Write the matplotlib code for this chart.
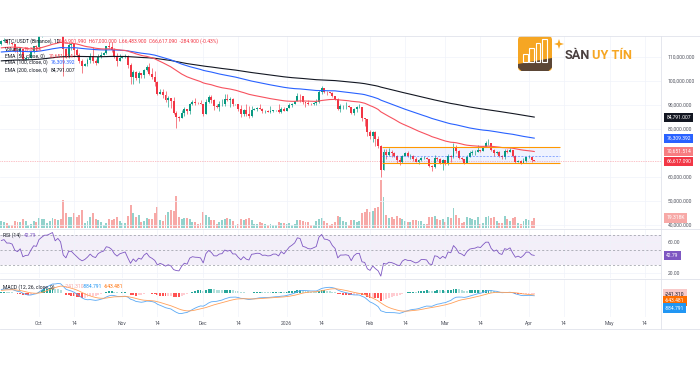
import numpy as np
import pandas as pd
import matplotlib
matplotlib.use('Agg')
import matplotlib.pyplot as plt
import matplotlib.dates as mdates
from matplotlib.patches import FancyBboxPatch, Rectangle, Polygon
from matplotlib.lines import Line2D

plt.rcParams['font.family'] = ['Roboto', 'DejaVu Sans']

# ─────────────────────────────────────────────
# DATA  (BTC/USDT daily, prices in thousands of USDT, volume in K)
# ─────────────────────────────────────────────
dates = pd.date_range('2025-09-17', '2026-04-03', freq='D')
first_open_k = 115.3

close_k = [
    116.5, 117.1, 115.7, 115.7, 115.3, 112.7, 112.0, 113.3, 109.0, 109.6, 109.7, 112.1, 114.4, 114.1,
    118.6, 120.5, 122.3, 122.4, 123.5, 124.8, 121.4, 123.3, 121.7, 113.2, 110.6, 115.2, 115.3, 113.0, 110.7, 108.2,
    106.4, 107.2, 108.6, 110.5, 108.4, 107.6, 110.0, 111.0, 111.6, 114.5, 114.1, 112.9, 110.0, 108.3, 109.6,
    110.1, 110.6, 106.5, 101.5, 103.9, 101.3, 103.3, 102.3, 104.7, 106.0, 103.0, 101.6, 99.7, 94.6, 95.5,
    94.2, 92.2, 92.9, 91.5, 86.6, 85.1, 84.6, 86.8, 88.3, 87.3, 90.5, 91.3, 90.9, 90.8, 90.4,
    86.3, 91.3, 93.5, 92.1, 89.4, 89.3, 90.4, 90.6, 92.7, 92.0, 92.5, 90.3, 90.3, 88.2, 86.4, 87.8,
    86.1, 85.5, 88.1, 88.3, 88.6, 88.5, 87.5, 87.6, 87.2, 87.3, 87.8, 87.8, 87.1, 88.4, 87.6,
    88.7, 89.9, 90.6, 91.5, 93.9, 93.7, 91.3, 91.0, 90.5, 90.4, 90.8, 91.2, 95.3, 97.0, 95.6, 95.5,
    95.1, 93.6, 92.6, 88.3, 89.4, 89.4, 89.5, 89.2, 86.6, 88.3, 89.1, 89.2, 84.6, 84.2, 78.7,
    76.9, 78.6, 75.7, 73.0, 62.9, 70.5, 69.3, 70.6, 70.1, 68.8, 67.0, 66.2, 68.8, 69.8,
    68.8, 68.8, 67.5, 66.4, 66.9, 68.0, 68.0, 67.7, 64.6, 64.0, 67.9, 67.5, 65.9, 67.0,
    65.7, 68.8, 68.3, 72.6, 70.9, 68.0, 67.3, 66.0, 68.4, 69.9, 70.3, 70.5, 71.2, 70.9, 72.5, 74.0,
    74.0, 71.3, 69.9, 70.5, 68.7, 68.2, 70.9, 70.5, 71.3, 68.8, 66.3, 66.8, 65.9, 66.8, 68.2,
    68.2, 66.902, 66.617,
]
high_k = [
    117.0, 117.9, 117.5, 116.3, 115.8, 115.4, 113.3, 114.0, 113.5, 110.3, 110.0, 112.3, 114.5, 114.8,
    118.6, 121.0, 123.9, 122.9, 125.7, 126.2, 125.1, 124.2, 123.8, 122.6, 113.6, 115.8, 116.0, 115.5, 113.6, 111.8,
    109.2, 107.5, 109.4, 111.7, 114.0, 109.1, 111.3, 112.0, 111.9, 114.6, 116.4, 116.1, 113.6, 111.6, 111.2,
    110.6, 111.2, 110.8, 107.3, 104.5, 104.2, 104.0, 103.4, 105.0, 106.7, 107.5, 105.3, 104.1, 99.9, 96.8,
    96.6, 96.0, 93.8, 92.9, 93.2, 87.5, 85.6, 88.0, 89.2, 88.5, 90.7, 91.9, 93.1, 91.2, 92.0,
    90.4, 92.3, 94.1, 94.0, 92.7, 90.3, 91.7, 92.3, 94.6, 94.5, 93.5, 92.8, 90.6, 90.3, 90.1, 88.2,
    90.4, 89.5, 89.4, 88.6, 89.1, 90.6, 88.9, 87.9, 88.0, 89.5, 88.0, 88.0, 90.4, 89.3, 89.0,
    88.9, 90.9, 90.8, 91.8, 94.8, 94.4, 93.8, 91.4, 91.9, 90.8, 91.1, 92.4, 96.2, 97.9, 97.2, 95.9,
    95.6, 95.5, 93.6, 92.8, 90.3, 90.2, 91.1, 89.8, 89.3, 88.8, 89.4, 90.6, 89.3, 84.7, 84.3,
    79.4, 79.3, 79.0, 76.9, 73.3, 71.7, 71.8, 72.2, 71.4, 70.5, 69.3, 68.3, 69.3, 70.3,
    70.9, 69.6, 69.1, 68.4, 67.4, 68.2, 68.6, 68.2, 67.7, 64.9, 69.3, 68.5, 68.1, 67.5,
    67.2, 69.4, 69.0, 74.0, 73.2, 71.3, 68.5, 67.6, 69.2, 71.0, 71.1, 71.3, 73.5, 71.4, 72.9, 74.8,
    76.0, 74.3, 71.5, 71.0, 70.9, 69.0, 71.8, 71.5, 71.9, 71.4, 69.0, 67.1, 67.2, 67.8, 68.4,
    69.2, 68.4, 67.0,
]
low_k = [
    115.0, 116.2, 115.3, 115.4, 115.0, 112.0, 111.6, 111.1, 108.6, 108.6, 109.2, 109.4, 111.6, 112.7,
    113.9, 118.3, 119.3, 121.0, 122.1, 123.0, 120.6, 121.1, 119.7, 102.0, 109.6, 109.7, 113.0, 109.9, 110.2, 107.5,
    103.5, 106.4, 106.1, 107.5, 107.5, 106.7, 107.5, 109.7, 110.7, 111.3, 113.9, 112.2, 109.7, 106.3, 108.3,
    109.4, 109.5, 105.3, 98.9, 98.9, 100.3, 99.3, 101.4, 101.4, 104.3, 102.5, 100.8, 98.0, 94.0, 94.6,
    93.0, 91.2, 89.3, 88.6, 86.1, 80.6, 83.5, 84.7, 85.3, 86.1, 86.3, 90.1, 90.2, 90.3, 90.3,
    85.5, 86.2, 91.0, 91.0, 88.1, 88.9, 87.7, 89.6, 89.6, 91.6, 89.3, 89.5, 89.8, 87.6, 85.2, 85.3,
    85.3, 84.5, 85.1, 88.0, 87.6, 88.2, 86.6, 86.6, 86.9, 86.6, 87.2, 87.4, 86.7, 86.8, 87.3,
    87.5, 88.6, 89.3, 90.5, 91.5, 91.3, 90.6, 89.3, 89.8, 90.1, 90.2, 90.0, 91.0, 94.7, 94.9, 94.3,
    94.8, 93.4, 91.9, 87.8, 87.2, 88.4, 88.4, 89.0, 86.1, 86.0, 87.2, 88.8, 83.4, 81.1, 77.0,
    75.7, 74.6, 72.9, 72.1, 60.0, 62.9, 67.3, 68.9, 68.2, 68.3, 65.8, 65.1, 65.9, 68.6,
    68.3, 67.3, 66.6, 66.1, 65.6, 66.5, 67.6, 67.3, 64.3, 62.5, 63.8, 66.8, 65.4, 63.0,
    65.2, 65.1, 66.2, 67.9, 70.2, 67.7, 67.0, 65.6, 65.7, 68.3, 69.3, 69.2, 70.3, 70.5, 70.7, 72.4,
    73.5, 70.8, 68.8, 69.6, 68.5, 67.4, 67.7, 69.9, 70.3, 68.5, 65.7, 66.1, 65.4, 65.7, 66.3,
    67.8, 66.2, 66.484,
]
volume_k = [
    13, 12, 10, 6, 6, 14, 12, 11, 18, 14, 6, 7, 13, 12,
    19, 18, 17, 9, 14, 19, 17, 15, 18, 54, 29, 22, 21, 29, 22, 26, 35, 10, 13, 22, 29, 17, 15, 12, 6, 10, 17, 16, 18, 21, 14,
    9, 10, 24, 44, 29, 22, 26, 12, 14, 19, 18, 17, 28, 40, 16, 14, 26, 30, 35, 33, 62, 21, 17, 20, 19, 18, 11, 12, 7, 9,
    31, 25, 22, 15, 16, 8, 11, 15, 18, 19, 18, 13, 6, 8, 17, 16, 18, 20, 15, 7, 8, 12, 10, 7, 6, 7, 5, 5, 11, 10, 9,
    7, 9, 6, 8, 16, 15, 13, 12, 11, 5, 6, 13, 18, 19, 13, 9, 6, 7, 11, 24, 22, 13, 12, 6, 15, 16, 12, 14, 28, 30, 36,
    31, 33, 39, 40, 93, 60, 25, 20, 22, 17, 23, 20, 17, 13, 11, 12, 16, 15, 13, 14, 7, 8, 22, 21, 24, 17, 15, 18,
    12, 22, 20, 39, 25, 20, 10, 12, 21, 19, 17, 16, 22, 8, 10, 21, 24, 19, 22, 14, 10, 10, 23, 17, 14, 19, 22, 9, 8, 13, 17,
    16, 14, 19.318,
]
assert len(close_k) == len(high_k) == len(low_k) == len(volume_k) == len(dates)

ema_seed = {50: 113700, 100: 112000, 200: 108300}
macd_seed = {'fast': 114300, 'slow': 113500, 'signal': 600}
rsi_seed = {'gain': 900, 'loss': 600}

# range box drawn on the chart
box_start, box_end = '2026-02-05 14:00', '2026-04-12 12:00'
box_top, box_bottom, box_mid = 72500, 65700, 68900

price_ticks = [40000, 50000, 60000, 80000, 90000, 100000, 110000]
tick_dates = ['2025-10-01', '2025-10-14', '2025-11-01', '2025-11-14', '2025-12-01', '2025-12-14',
              '2026-01-01', '2026-01-14', '2026-02-01', '2026-02-14', '2026-03-01', '2026-03-14',
              '2026-04-01', '2026-04-14', '2026-05-01', '2026-05-14']
tick_labels = ['Oct', '14', 'Nov', '14', 'Dec', '14', '2026', '14', 'Feb', '14', 'Mar', '14',
               'Apr', '14', 'May', '14']

# ─────────────────────────────────────────────
# DERIVED SERIES
# ─────────────────────────────────────────────
closes = np.array(close_k) * 1000
highs = np.array(high_k) * 1000
lows = np.array(low_k) * 1000
opens = np.concatenate([[first_open_k * 1000], closes[:-1]])
opens[-1] = 66901.99
vols = np.array(volume_k, dtype=float)
x = mdates.date2num(dates)


def ema(values, span, seed):
    k = 2 / (span + 1)
    out, prev = [], seed
    for v in values:
        prev = prev + k * (v - prev)
        out.append(prev)
    return np.array(out)


ema50 = ema(closes, 50, ema_seed[50])
ema100 = ema(closes, 100, ema_seed[100])
ema200 = ema(closes, 200, ema_seed[200])

macd_line = ema(closes, 12, macd_seed['fast']) - ema(closes, 26, macd_seed['slow'])
signal_line = ema(macd_line, 9, macd_seed['signal'])
hist = macd_line - signal_line

delta = np.diff(np.concatenate([[first_open_k * 1000], closes]))
ag, al = rsi_seed['gain'], rsi_seed['loss']
rsi = []
for d in delta:
    ag = (ag * 13 + max(d, 0)) / 14
    al = (al * 13 + max(-d, 0)) / 14
    rsi.append(100 - 100 / (1 + ag / al))
rsi = np.array(rsi)

# ─────────────────────────────────────────────
# STYLE
# ─────────────────────────────────────────────
W, H = 700, 365
UP, DOWN = '#089981', '#f23645'
GRID = '#f0f3fa'
TXT = '#50535e'
FS = 3.65


def px_rect(x0, y0, x1, y1):
    return [x0 / W, 1 - y1 / H, (x1 - x0) / W, (y1 - y0) / H]


oct1 = mdates.date2num(pd.Timestamp('2025-10-01'))
xlim = (oct1 - 14.5, oct1 + 231.1)
tick_x = mdates.date2num(pd.to_datetime(tick_dates))

fig = plt.figure(figsize=(7, 3.65), dpi=100)
fig.patch.set_facecolor('white')


def style_pane(a):
    a.set_xlim(*xlim)
    a.set_xticks(tick_x)
    a.set_xticklabels([])
    a.yaxis.tick_right()
    a.tick_params(axis='both', length=0, labelsize=FS, labelcolor=TXT, pad=5)
    a.grid(True, color=GRID, lw=0.5)
    for s in a.spines.values():
        s.set_visible(False)


def tag(a, y, text, bg, fg='white', tr=None):
    a.text(1.008, y, text, transform=tr or a.get_yaxis_transform(), ha='left', va='center',
           fontsize=FS, color=fg, clip_on=False, zorder=30,
           bbox=dict(boxstyle='square,pad=0.4', fc=bg, ec='none'))


# ─────────────────────────────────────────────
# MAIN PANE (volume underneath, candles on top)
# ─────────────────────────────────────────────
ax_vol = fig.add_axes(px_rect(0, 36, 661, 228))
vcolors = np.where(closes >= opens, '#92d2cc', '#f7a9a7')
ax_vol.bar(x, vols, width=0.72, color=vcolors, lw=0)
ax_vol.set_xlim(*xlim)
ax_vol.set_ylim(0, 192 * 1.93)
ax_vol.axis('off')

ax = fig.add_axes(px_rect(0, 36, 661, 228))
ax.patch.set_alpha(0)
style_pane(ax)
ax.set_ylim(38750, 118750)
ax.set_yticks(price_ticks)
ax.yaxis.set_major_formatter(plt.FuncFormatter(lambda v, p: f'{v:,.3f}'))

ccolors = np.where(closes >= opens, UP, DOWN)
ax.vlines(x, lows, highs, colors=ccolors, lw=0.45, zorder=3)
body_lo = np.minimum(opens, closes)
body_h = np.maximum(np.abs(closes - opens), 80)
ax.bar(x, body_h, bottom=body_lo, width=0.72, color=ccolors, lw=0, zorder=4)

ax.plot(x, ema200, color='#131722', lw=0.8, zorder=5)
ax.plot(x, ema100, color='#2962ff', lw=0.8, zorder=5)
ax.plot(x, ema50, color='#f7525f', lw=0.8, zorder=5)

bx0, bx1 = mdates.date2num(pd.Timestamp(box_start)), mdates.date2num(pd.Timestamp(box_end))
ax.add_patch(Rectangle((bx0, box_bottom), bx1 - bx0, box_top - box_bottom,
                       fc='#2962ff', alpha=0.08, ec='none', zorder=2))
ax.hlines([box_top, box_bottom], bx0, bx1, colors='#ff9800', lw=0.8, zorder=6)
ax.hlines(box_mid, bx0, bx1, colors='#2962ff', lw=0.5, linestyles=(0, (3, 2)), alpha=0.7, zorder=6)
ax.axhline(closes[-1], color=DOWN, lw=0.5, ls=(0, (1, 1.5)), alpha=0.6, zorder=2)

tag(ax, ema200[-1], '84,791.007', '#131722')
tag(ax, ema100[-1], '76,309.392', '#2962ff')
tag(ax, ema50[-1], '70,651.514', '#f77c80')
tag(ax, closes[-1], '66,617.090', DOWN)
tag(ax, vols[-1], '19.318K', '#f7a9a7', tr=ax_vol.get_yaxis_transform())

# ─────────────────────────────────────────────
# RSI PANE
# ─────────────────────────────────────────────
ax_rsi = fig.add_axes(px_rect(0, 229, 661, 278))
style_pane(ax_rsi)
ax_rsi.set_ylim(13.33, 77.33)
ax_rsi.set_yticks([20, 60])
ax_rsi.set_yticklabels(['20.00', '60.00'])
ax_rsi.axhspan(30, 70, color='#7e57c2', alpha=0.09, lw=0)
for lvl in (70, 50, 30):
    ax_rsi.axhline(lvl, color='#9598a1', lw=0.5, ls=(0, (3, 3)))
ax_rsi.plot(x, rsi, color='#7e57c2', lw=0.6)
tag(ax_rsi, 42.79, '42.79', '#7e57c2')

# ─────────────────────────────────────────────
# MACD PANE
# ─────────────────────────────────────────────
ax_m = fig.add_axes(px_rect(0, 279, 661, 317))
style_pane(ax_m)
ax_m.set_yticks([])
low_val = min(macd_line.min(), signal_line.min())
scale = -low_val / (313.5 - 292.7)
ax_m.set_ylim(-(317 - 292.7) * scale, (292.7 - 279) * scale)

hcol = []
for i, h in enumerate(hist):
    prev = hist[i - 1] if i > 0 else h
    if h >= 0:
        hcol.append('#26a69a' if h >= prev else '#b2dfdb')
    else:
        hcol.append('#ff5252' if h < prev else '#ffcdd2')
ax_m.bar(x, hist, width=0.72, color=hcol, lw=0)
ax_m.plot(x, macd_line, color='#5aa9f5', lw=0.6)
ax_m.plot(x, signal_line, color='#ffa05a', lw=0.6)
ax_m.set_xticklabels(tick_labels)
ax_m.tick_params(axis='x', pad=3)

# ─────────────────────────────────────────────
# OVERLAY: frame, legends, logo
# ─────────────────────────────────────────────
ov = fig.add_axes([0, 0, 1, 1], zorder=20)
ov.set_xlim(0, W)
ov.set_ylim(H, 0)
ov.axis('off')
ov.patch.set_alpha(0)

for yy in (36, 228.5, 278.5, 329):
    ov.add_line(Line2D([0, W], [yy, yy], color='#e0e3eb', lw=0.6))
ov.add_line(Line2D([661, 661], [36, 329], color='#e0e3eb', lw=0.6))


def legend_row(y, parts):
    for xx, s, c in parts:
        ov.text(xx, y, s, fontsize=FS, color=c, va='center', ha='left')


legend_row(41.3, [(5, 'BTC/USDT (Binance), 1D', '#131722'),
                  (58, 'O66,901.990  H67,000.000  L66,483.900  C66,617.090  -284.900 (-0.43%)', DOWN)])
legend_row(49.3, [(5, 'Volume', '#131722'), (24, '19.318K', DOWN)])
legend_row(55.8, [(5, 'EMA (50, close, 0)', '#131722'), (49, '70,651.514', DOWN)])
legend_row(62.6, [(5, 'EMA (100, close, 0)', '#131722'), (51, '76,309.392', '#2962ff')])
legend_row(69.7, [(5, 'EMA (200, close, 0)', '#131722'), (51, '84,791.007', '#131722')])
legend_row(235.5, [(3, 'RSI (14)', '#131722'), (24, '42.79', '#7e57c2')])
legend_row(287, [(3, 'MACD (12, 26, close, 9)', '#131722'), (65, '-241.310', '#f5a3a3'),
                 (83, '-884.791', '#2196f3'), (104, '-643.481', '#ff6d00')])

# stacked MACD value tags on the right scale
for yy, s, bg, fg in [(294, '-241.310', '#f8c9c9', '#131722'),
                      (301, '-643.481', '#ff6d00', 'white'),
                      (308, '-884.791', '#2196f3', 'white')]:
    ov.text(665, yy, s, fontsize=FS, color=fg, va='center', ha='left',
            bbox=dict(boxstyle='square,pad=0.4', fc=bg, ec='none'))

# logo "SÀN UY TÍN"
ov.add_patch(FancyBboxPatch((522, 40), 26, 27, boxstyle='round,pad=4', fc='#f6a623', ec='none'))
ov.add_patch(Polygon([(518, 64), (552, 58), (552, 67.5), (548.5, 71), (521.5, 71), (518, 67.5)],
                     closed=True, fc='#5b4636', ec='none'))
for bx, top in [(523, 54), (529, 48), (535.5, 43), (542, 39)]:
    ov.add_patch(Rectangle((bx, top), 4.5, 62 - top, fc='none', ec='white', lw=0.8))
sx, sy = 559, 44
ov.add_patch(Polygon([(sx, sy - 5), (sx + 1.2, sy - 1.2), (sx + 5, sy), (sx + 1.2, sy + 1.2),
                      (sx, sy + 5), (sx - 1.2, sy + 1.2), (sx - 5, sy), (sx - 1.2, sy - 1.2)],
                     closed=True, fc='#f6a623', ec='none'))
ov.text(565, 55.5, 'SÀN', fontsize=9.2, fontweight='bold', color='#4a4040', va='center', ha='left')
ov.text(592, 55.5, 'UY TÍN', fontsize=9.2, fontweight='bold', color='#f6a623', va='center', ha='left')

fig.savefig('out.png', dpi=100, facecolor='white')
